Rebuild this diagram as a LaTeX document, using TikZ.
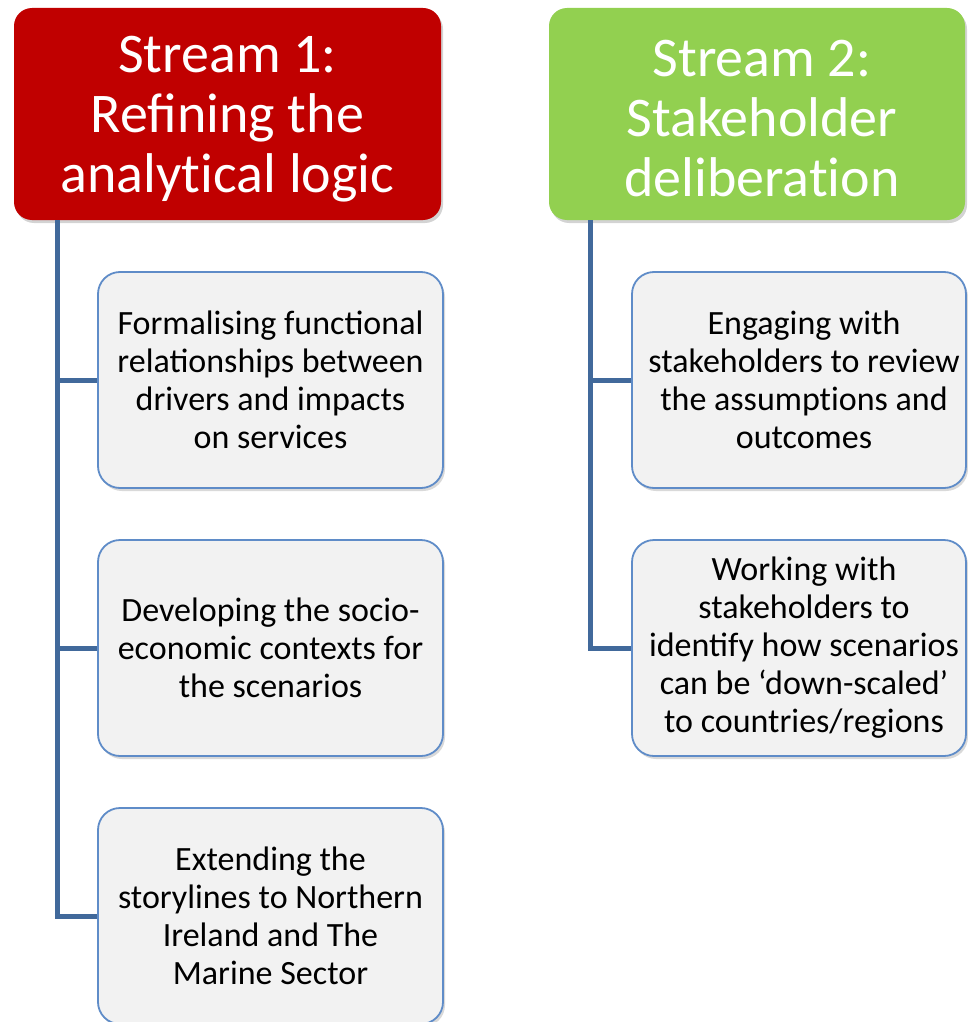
\documentclass[tikz,border=0pt]{standalone}
\usepackage{fontspec}
\setmainfont{Carlito}
\usetikzlibrary{shadows}

\definecolor{streamred}{RGB}{192,0,0}
\definecolor{streamgreen}{RGB}{146,208,80}
\definecolor{linkblue}{RGB}{65,105,155}
\definecolor{taskedge}{RGB}{95,140,200}
\definecolor{taskfill}{RGB}{242,242,242}

\tikzset{
  streambox/.style={draw=none, rounded corners=18pt, align=center, text=white,
    font=\fontsize{56}{60}\selectfont, inner sep=0pt,
    drop shadow={shadow xshift=2pt, shadow yshift=-3pt, opacity=0.35}},
  taskbox/.style={draw=taskedge, line width=1.8pt, fill=taskfill, rounded corners=22pt,
    align=center, font=\fontsize{34}{38}\selectfont, inner sep=0pt,
    minimum width=345pt, minimum height=216pt,
    drop shadow={shadow xshift=2pt, shadow yshift=-3pt, opacity=0.3}},
  link/.style={draw=linkblue, line width=5pt}
}

\begin{document}
\begin{tikzpicture}[x=1pt, y=-1pt]
  \useasboundingbox (0,0) rectangle (967,1022);

  % stream headers
  \node[streambox, fill=streamred, minimum width=427pt, minimum height=212pt] (s1) at (227.5,114) {\rule{0pt}{46pt}Stream 1:\\Refining the\\analyt\kern0pt ical logic};
  \node[streambox, fill=streamgreen, minimum width=416pt, minimum height=212pt] (s2) at (757,114) {\rule{0pt}{46pt}\hspace*{10pt}Stream 2:\\\hspace*{10pt}Stakeholder\\\hspace*{10pt}deliberat\kern0pt ion};

  % stream 1 tasks
  \node[taskbox] (t11) at (270.5,380) {Formalising functional\\relationships between\\drivers and impacts\\on services};
  \node[taskbox] (t12) at (270.5,648) {Developing the socio-\\economic contexts for\\the scenarios};
  \node[taskbox] (t13) at (270.5,916) {Extending the\\storylines to Northern\\Ireland and The\\Marine Sector};

  % stream 2 tasks
  \node[taskbox, minimum width=334pt] (t21) at (799,380) {\hspace*{10pt}Engaging with\\\hspace*{10pt}stakeholders to review\\\hspace*{10pt}the assumpt\kern0pt ions and\\\hspace*{10pt}outcomes};
  \node[taskbox, minimum width=334pt] (t22) at (799,648) {\hspace*{10pt}Working with\\\hspace*{10pt}stakeholders to\\\hspace*{10pt}identify how scenarios\\\hspace*{10pt}can be `down-scaled'\\\hspace*{10pt}to countries/regions};

  % connectors
  \coordinate (r1) at (57,220);
  \coordinate (r2) at (590,220);
  \draw[link] (r1) |- (t13.west);
  \draw[link] (r1 |- t11.west) -- (t11.west);
  \draw[link] (r1 |- t12.west) -- (t12.west);
  \draw[link] (r2) |- (t22.west);
  \draw[link] (r2 |- t21.west) -- (t21.west);
\end{tikzpicture}
\end{document}
